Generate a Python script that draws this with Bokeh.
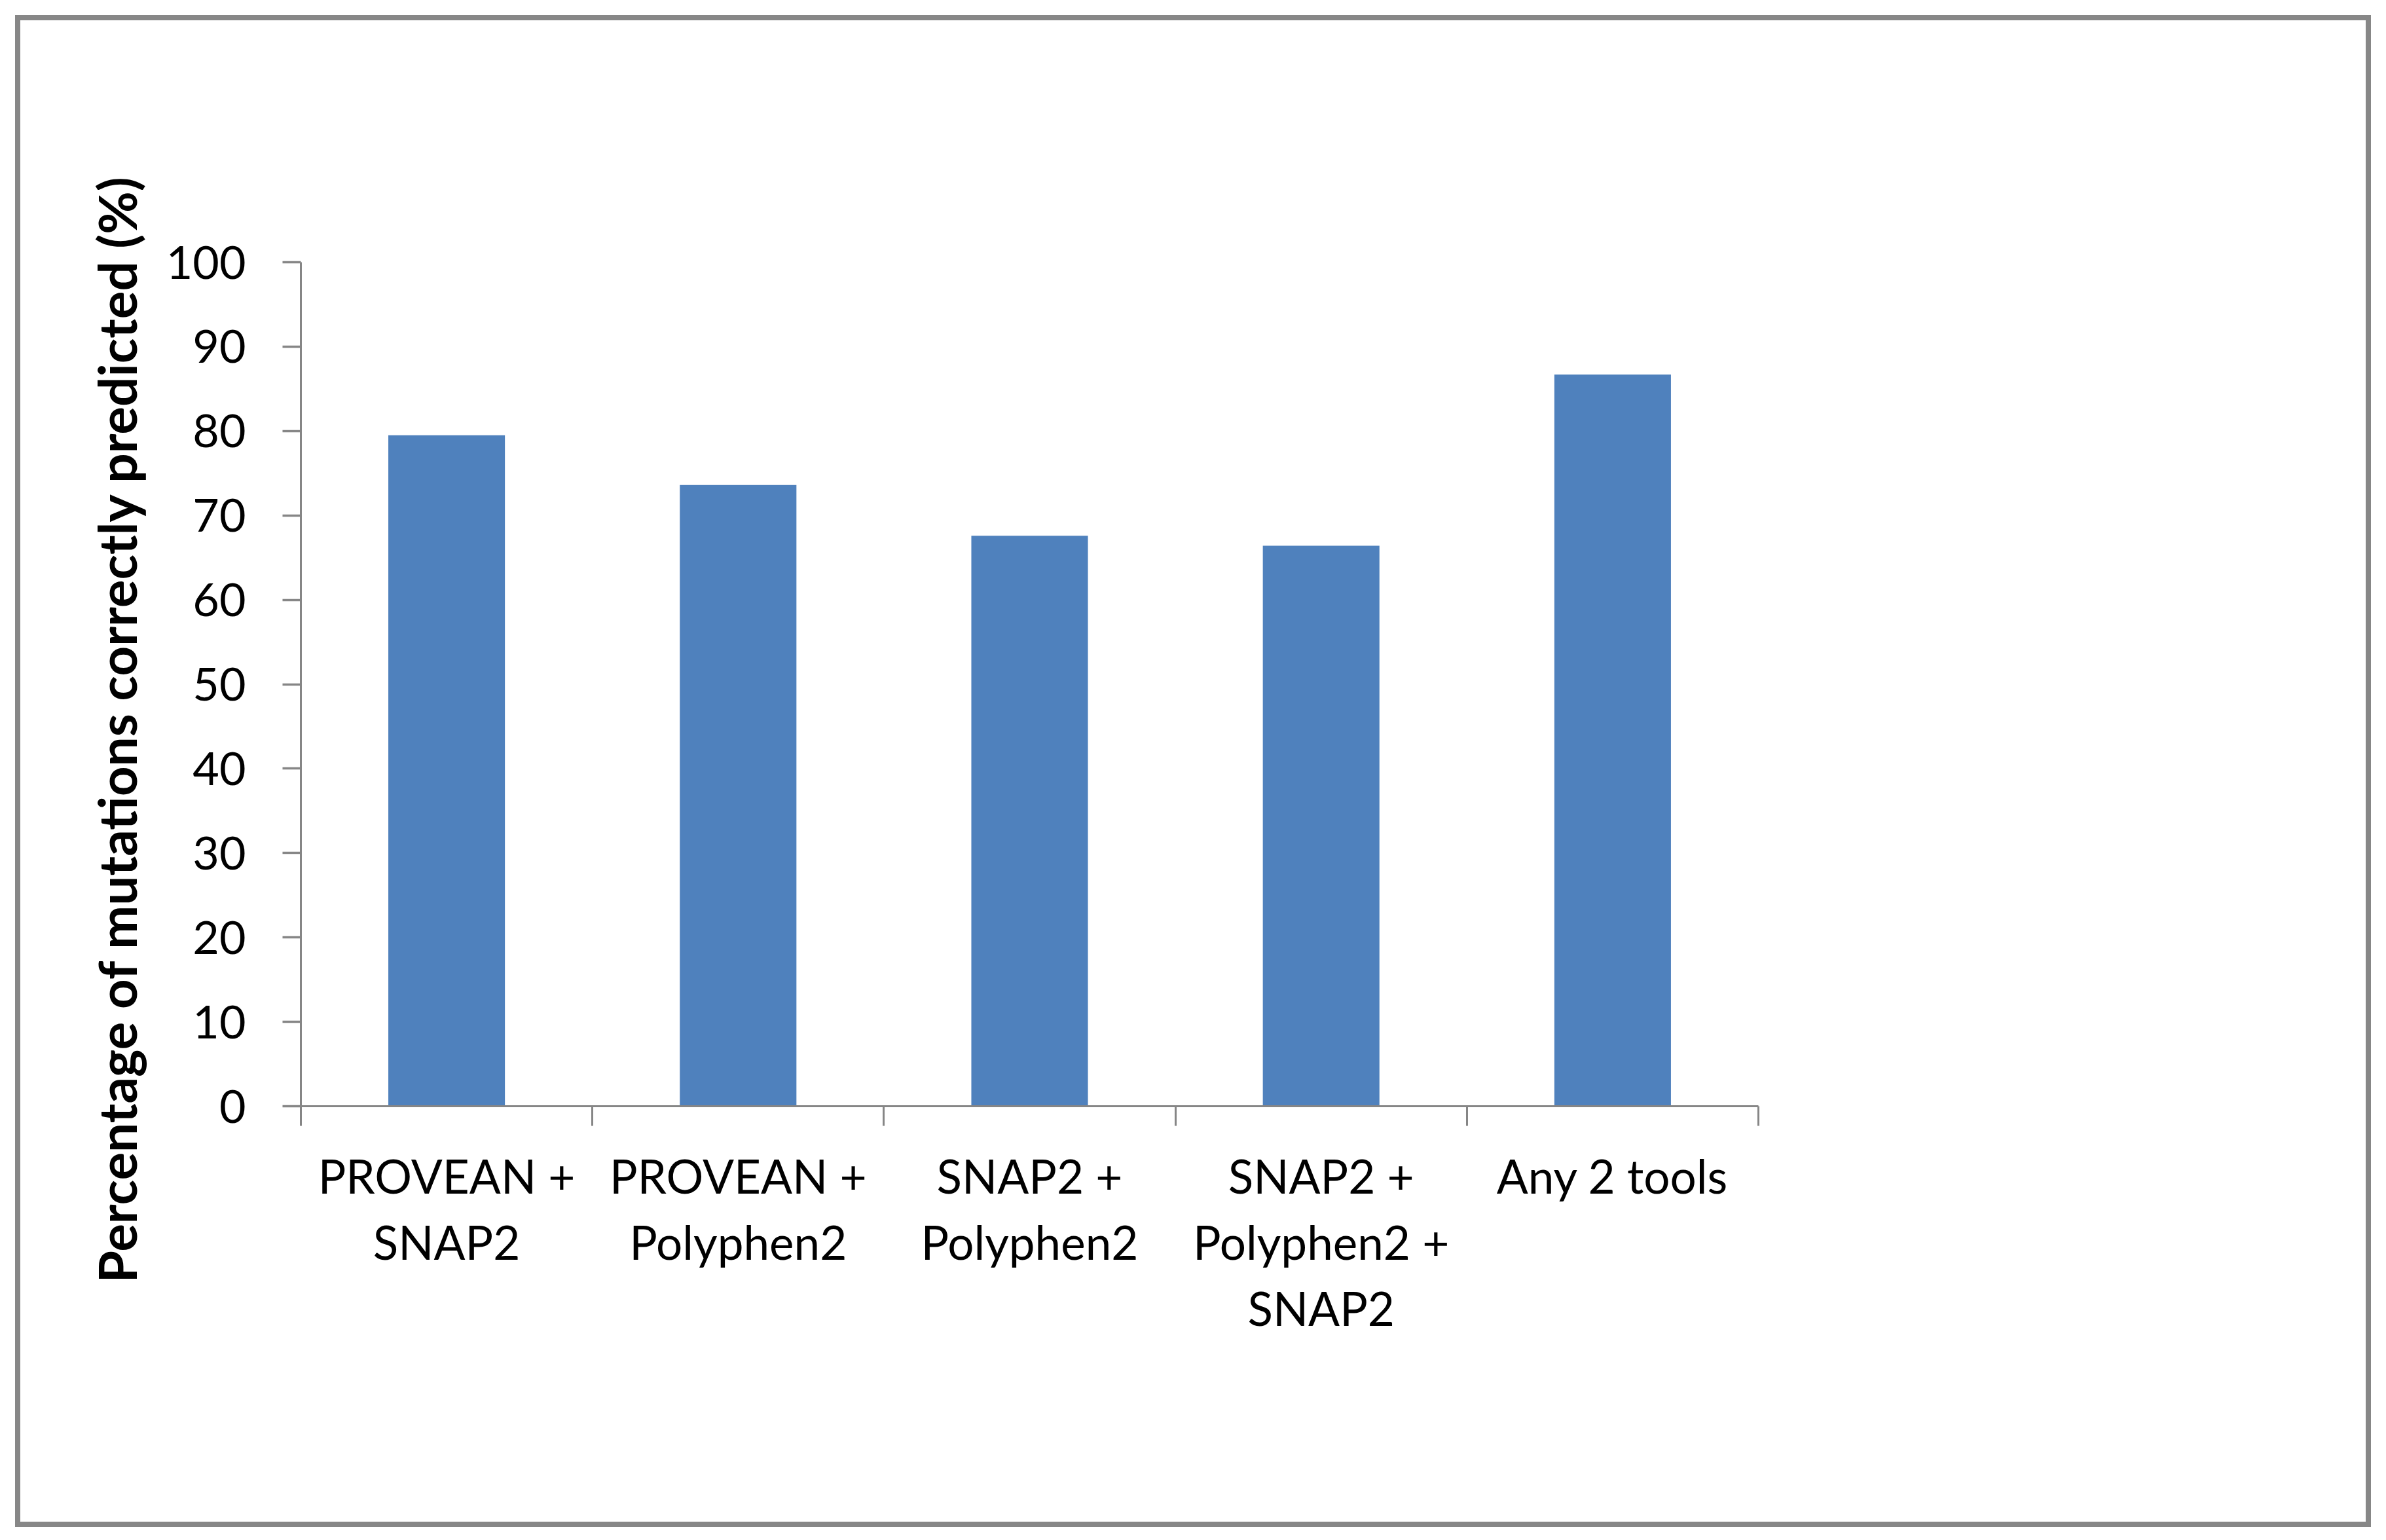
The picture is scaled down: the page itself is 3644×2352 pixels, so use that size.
from bokeh.plotting import figure
from bokeh.models import LinearAxis, FixedTicker, Range1d, Title
from bokeh.embed import file_html
from bokeh.resources import INLINE

# ---- data ----
categories = ["PROVEAN +\nSNAP2", "PROVEAN +\nPolyphen2", "SNAP2 +\nPolyphen2",
              "SNAP2 +\nPolyphen2 +\nSNAP2", "Any 2 tools"]
values = [79.5, 73.6, 67.6, 66.4, 86.7]
y_ticks = [0, 10, 20, 30, 40, 50, 60, 70, 80, 90, 100]
y_title = "Percentage of mutations correctly predicted (%)"

n = len(categories)
centers = [i + 0.5 for i in range(n)]
bounds = list(range(n + 1))

AXIS = "#868686"
FONT = "Lato"

p = figure(width=3582, height=2293, output_backend="svg", toolbar_location=None,
           x_range=Range1d(0, n), y_range=Range1d(0, 100),
           min_border_left=428, min_border_right=944,
           min_border_top=369, min_border_bottom=651,
           margin=(23, 0, 0, 23),
           styles={"border": "8px solid #878787", "box-sizing": "content-box"})
p.title.visible = False

p.vbar(x=centers, top=values, bottom=0, width=0.4, fill_color="#4F81BD",
       line_color=None)

p.xgrid.grid_line_color = None
p.ygrid.grid_line_color = None
p.outline_line_color = None
p.background_fill_color = "white"
p.border_fill_color = "white"

# x axis with boundary ticks (no labels drawn)
xa = p.xaxis[0]
xa.ticker = FixedTicker(ticks=bounds)
xa.major_label_overrides = {b: "" for b in bounds}
xa.major_label_text_color = None
xa.major_label_text_font_size = "0px"
xa.major_label_standoff = 0
xa.major_tick_in = 0
xa.major_tick_out = 30
xa.major_tick_line_color = AXIS
xa.major_tick_line_width = 3
xa.minor_tick_line_color = None
xa.axis_line_color = AXIS
xa.axis_line_width = 3

# category label axis
lab = LinearAxis(ticker=FixedTicker(ticks=centers),
                 major_label_overrides={c: t for c, t in zip(centers, categories)})
lab.axis_line_color = None
lab.major_tick_line_color = None
lab.minor_tick_line_color = None
lab.major_label_text_font = FONT
lab.major_label_text_font_size = "71px"
lab.major_label_text_color = "black"
lab.major_label_text_line_height = 1.19
lab.major_label_standoff = 27
p.add_layout(lab, "below")

# y axis
ya = p.yaxis[0]
ya.ticker = FixedTicker(ticks=y_ticks)
ya.major_tick_in = 0
ya.major_tick_out = 28
ya.major_tick_line_color = AXIS
ya.major_tick_line_width = 3.5
ya.minor_tick_line_color = None
ya.axis_line_color = AXIS
ya.axis_line_width = 3
ya.major_label_text_font = FONT
ya.major_label_text_font_size = "70px"
ya.major_label_text_color = "black"
ya.major_label_standoff = 56

# y axis title (side title so it can sit lower, like the reference)
t = Title(text=y_title, align="left", offset=-270, standoff=50,
          text_font=FONT, text_font_style="bold", text_font_size="80px",
          text_color="black")
p.add_layout(t, "left")

open("out.html", "w").write(file_html(p, INLINE))
